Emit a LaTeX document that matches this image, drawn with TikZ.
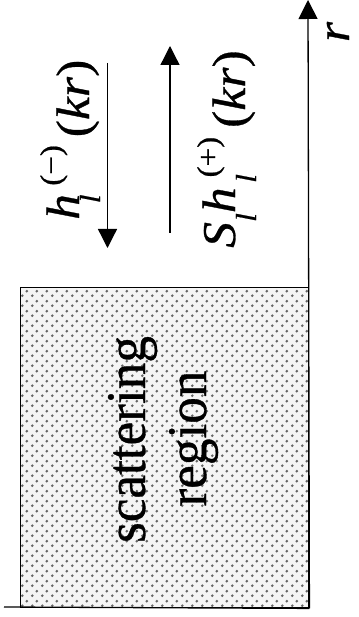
\documentclass[tikz,border=0pt]{standalone}
\usepackage{fontspec}
\setmainfont[FakeBold=0.6,ItalicFeatures={FakeBold=0.6}]{Liberation Serif}
\usetikzlibrary{arrows.meta,patterns.meta}
\definecolor{dotbg}{HTML}{F5F5F5}
\definecolor{dotgray}{HTML}{646464}
\pgfdeclarepattern{
  name=sdots, type=uncolored,
  bottom left={\pgfpoint{0pt}{0pt}},
  top right={\pgfpoint{10pt}{10pt}},
  tile size={\pgfpoint{10pt}{10pt}},
  code={\pgfpathcircle{\pgfpoint{2.5pt}{2.5pt}}{1.6pt}%
        \pgfpathcircle{\pgfpoint{7.5pt}{7.5pt}}{1.6pt}%
        \pgfusepath{fill}}}
\newcommand{\pc}[3]{\rlap{\kern#1\raisebox{#2}{#3}}}
\newcommand{\mainsz}{\fontsize{47}{47}\selectfont}
\newcommand{\scsz}{\fontsize{29}{29}\selectfont}
\newcommand{\supsz}{\fontsize{30}{30}\selectfont}
\newcommand{\bigsz}{\fontsize{56}{56}\selectfont}
\begin{document}
\begin{tikzpicture}[x=1pt,y=-1pt,
  ln/.style={line width=1.3pt},
  arr/.style={ln,-{Triangle[length=19pt,width=19pt]}},
  lab/.style={inner sep=0pt,rotate=90,anchor=base west},
  vtext/.style={inner sep=0pt,rotate=90,anchor=base}]
\useasboundingbox (0,0) rectangle (358,617);
% scattering region box
\node[draw,line width=1.4pt,fill=dotbg,
      postaction={pattern=sdots,pattern color=dotgray},
      minimum width=288pt,minimum height=320pt,inner sep=0pt,
      anchor=north west] (box) at (20,287) {};
% axis and base line
\coordinate (axtop) at (308,0);
\coordinate (bl) at (4,607);
\draw[ln] (bl) -- (box.south east);
\draw[arr] (box.south east) -- (axtop);
% wave arrows
\coordinate (ha) at (107.5,63);
\coordinate (hb) at (107.5,248);
\draw[arr] (ha) -- (hb);
\coordinate (sa) at (170,233);
\coordinate (sb) at (170,46);
\draw[arr] (sa) -- (sb);
% labels
\node[lab] (hlab) at (79,220) {\scalebox{1.1}[1]{\mainsz
  \pc{0pt}{0pt}{\itshape h}%
  \pc{15pt}{-21pt}{\scsz\itshape l}%
  \pc{31pt}{18pt}{\supsz(−)}%
  \pc{75pt}{-10pt}{({\itshape kr\/})}%
  \hspace*{145pt}}};
\node[lab] (slab) at (235,248) {\scalebox{1.1}[1]{\mainsz
  \pc{0pt}{0pt}{\itshape S}%
  \pc{23.5pt}{-21pt}{\scsz\itshape l}%
  \pc{31.5pt}{0pt}{\itshape h}%
  \pc{59pt}{-21pt}{\scsz\itshape l}%
  \pc{64pt}{17pt}{\supsz(+)}%
  \pc{109pt}{-10pt}{({\itshape kr\/})}%
  \hspace*{181pt}}};
\node[vtext] (rlab) at (349,32) {\scalebox{1.1}[1]{\mainsz\itshape r}};
\node[vtext] (t1) at (145,439.5) {\scalebox{0.95}[1]{\bigsz scattering}};
\node[vtext] (t2) at (206,438.5) {\scalebox{0.95}[1]{\bigsz region}};
\end{tikzpicture}
\end{document}
